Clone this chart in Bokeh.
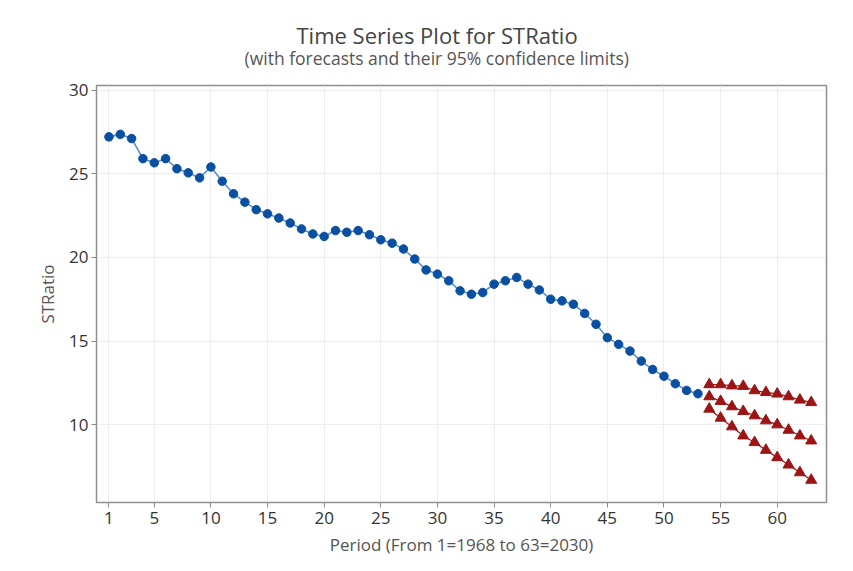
from bokeh.plotting import figure
from bokeh.models import Range1d, FixedTicker, Title
from bokeh.embed import file_html
from bokeh.resources import INLINE

periods = list(range(1, 54))
stratio = [27.2, 27.35, 27.1, 25.9, 25.65, 25.9, 25.3, 25.05, 24.75, 25.4,
           24.55, 23.8, 23.3, 22.85, 22.6, 22.35, 22.05, 21.7, 21.4, 21.25,
           21.6, 21.5, 21.6, 21.35, 21.05, 20.85, 20.5, 19.9, 19.25, 19.0,
           18.6, 18.0, 17.8, 17.9, 18.4, 18.6, 18.8, 18.4, 18.05, 17.5,
           17.4, 17.2, 16.65, 16.0, 15.2, 14.8, 14.4, 13.8, 13.3, 12.9,
           12.45, 12.05, 11.85]

fc_periods = list(range(54, 64))
forecast = [11.68, 11.4, 11.08, 10.8, 10.54, 10.24, 10.0, 9.68, 9.34, 9.04]
upper = [12.4, 12.4, 12.33, 12.3, 12.04, 11.93, 11.84, 11.68, 11.48, 11.33]
lower = [10.94, 10.4, 9.88, 9.34, 8.94, 8.48, 8.04, 7.6, 7.14, 6.69]

x_ticks = [1, 5, 10, 15, 20, 25, 30, 35, 40, 45, 50, 55, 60]
y_ticks = [10, 15, 20, 25, 30]

title_text = "Time Series Plot for STRatio"
subtitle_text = "(with forecasts and their 95% confidence limits)"

FONT = "Open Sans"

p = figure(width=845, height=562, output_backend="svg", toolbar_location=None,
           x_range=Range1d(-0.1, 64.35), y_range=Range1d(5.35, 30.27),
           min_border_left=96, min_border_right=19, min_border_top=85,
           min_border_bottom=60)

p.add_layout(Title(text=subtitle_text, align="left", offset=148,
                   text_font=FONT, text_font_size="17.5px",
                   text_font_style="normal", text_color="#555555",
                   standoff=32), "above")
p.add_layout(Title(text=title_text, align="left", offset=200,
                   text_font=FONT, text_font_size="22px",
                   text_font_style="normal", text_color="#444444",
                   standoff=-44), "above")

p.outline_line_color = "#8f8f8f"
p.outline_line_width = 1.5
p.background_fill_color = "white"
p.border_fill_color = "white"

for ax in (p.xaxis[0], p.yaxis[0]):
    ax.axis_line_color = "#8f8f8f"
    ax.major_tick_line_color = "#8a8a8a"
    ax.major_tick_out = 5
    ax.major_tick_in = 0
    ax.minor_tick_line_color = None
    ax.major_label_text_font = FONT
    ax.major_label_text_font_size = "17px"
    ax.major_label_text_color = "#333333"
    ax.axis_label_text_font = FONT
    ax.axis_label_text_font_size = "17px"
    ax.axis_label_text_font_style = "normal"
    ax.axis_label_text_color = "#555555"

p.xaxis.ticker = FixedTicker(ticks=x_ticks)
p.yaxis.ticker = FixedTicker(ticks=y_ticks)
p.xaxis.axis_label = "Period (From 1=1968 to 63=2030)"
p.yaxis.axis_label = "STRatio"
p.xaxis.major_label_standoff = 4
p.yaxis.major_label_standoff = 3
p.xaxis.axis_label_standoff = 6
p.yaxis.axis_label_standoff = 7

p.xgrid.grid_line_color = "#eeeeee"
p.ygrid.grid_line_color = "#eeeeee"
p.xgrid.ticker = FixedTicker(ticks=x_ticks)
p.ygrid.ticker = FixedTicker(ticks=y_ticks)

blue_line = "#5b8fd0"
blue_mark = "#0a50a2"
red = "#9c1414"

p.line(periods, stratio, line_color=blue_line, line_width=1.6)
p.scatter(periods, stratio, marker="circle", size=8.5, fill_color=blue_mark,
          line_color=blue_mark)

for series in (upper, forecast, lower):
    p.line(fc_periods, series, line_color=red, line_width=1.2)
    p.scatter(fc_periods, series, marker="triangle", size=11,
              fill_color=red, line_color=red)

open("out.html", "w").write(file_html(p, INLINE))
